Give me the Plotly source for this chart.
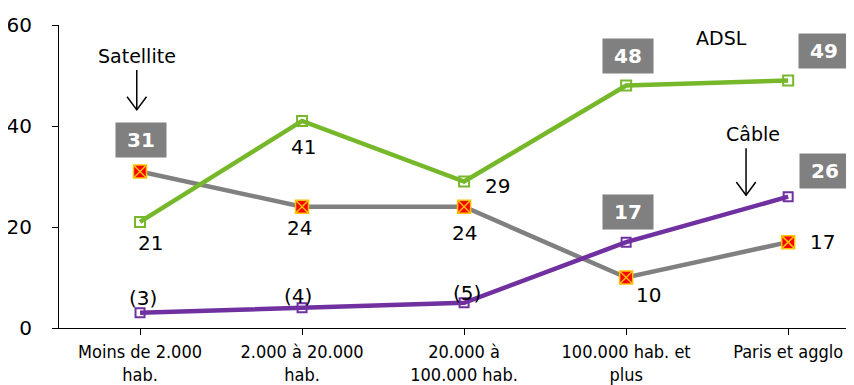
import plotly.graph_objects as go

categories = ["Moins de 2.000<br>hab.", "2.000 à 20.000<br>hab.", "20.000 à<br>100.000 hab.",
              "100.000 hab. et<br>plus", "Paris et agglo"]
adsl = [21, 41, 29, 48, 49]
satellite = [31, 24, 24, 10, 17]
cable = [3, 4, 5, 17, 26]
y_ticks = [0, 20, 40, 60]

x = list(range(len(categories)))
GREEN = "#76b82a"
GREY = "#808080"
PURPLE = "#7030a0"
FONT = "DejaVu Sans, Verdana, sans-serif"

fig = go.Figure()
fig.add_trace(go.Scatter(x=x, y=satellite, mode="lines+markers",
                         line=dict(color=GREY, width=4.5),
                         marker=dict(symbol="square-x", size=13, color="#ff0000",
                                     line=dict(color="#ffc000", width=1.5))))
fig.add_trace(go.Scatter(x=x, y=adsl, mode="lines+markers",
                         line=dict(color=GREEN, width=4.5),
                         marker=dict(symbol="square-open", size=10, color=GREEN,
                                     line=dict(width=2))))
fig.add_trace(go.Scatter(x=x, y=cable, mode="lines+markers",
                         line=dict(color=PURPLE, width=4.5),
                         marker=dict(symbol="square-open", size=9, color=PURPLE,
                                     line=dict(width=2))))

ann = []
def plain(i, v, xs, ys):
    ann.append(dict(x=i, y=v, text=str(v), showarrow=False,
                    xshift=xs, yshift=ys, font=dict(family=FONT, size=20, color="#000")))

def boxed(i, v, xs, ys):
    ann.append(dict(x=i, y=v, text="<b>%d</b>" % v, showarrow=False, xshift=xs, yshift=ys,
                    bgcolor=GREY, borderpad=5, width=40,
                    font=dict(family=FONT, size=20, color="#ffffff")))

plain(0, adsl[0], 10, -21)
plain(1, adsl[1], 1, -26)
plain(2, adsl[2], 33, -4)
plain(1, satellite[1], -3, -21)
plain(2, satellite[2], 0, -26)
plain(3, satellite[3], 22, -17)
plain(4, satellite[4], 34, 0)
for i, xs, ys in [(0, 3, 15), (1, -4, 12), (2, 3, 10)]:
    ann.append(dict(x=i, y=cable[i], text="(%d)" % cable[i], showarrow=False,
                    xshift=xs, yshift=ys, font=dict(family=FONT, size=20, color="#000")))
boxed(0, satellite[0], 1, 31)
boxed(3, adsl[3], 2, 30)
boxed(4, adsl[4], 36, 30)
boxed(3, cable[3], 2, 30)
boxed(4, cable[4], 37, 26)

for txt, xx, yy in [("Satellite", -0.02, 53.9), ("ADSL", 3.59, 57.4), ("Câble", 3.78, 38.4)]:
    ann.append(dict(x=xx, y=yy, text=txt, showarrow=False,
                    font=dict(family=FONT, size=19, color="#000")))

shapes = []
for ax_, y0, y1 in [(-0.02, 51.1, 43.2), (3.74, 35.6, 26.3)]:
    shapes.append(dict(type="line", xref="x", yref="y", x0=ax_, x1=ax_, y0=y0, y1=y1,
                       line=dict(color="#000", width=1.5)))
    shapes.append(dict(type="path", xref="x", yref="y",
                       path="M %f %f L %f %f L %f %f" % (ax_ - 0.06, y1 + 2.6, ax_, y1, ax_ + 0.06, y1 + 2.6),
                       line=dict(color="#000", width=1.5)))

fig.update_layout(
    width=846, height=377,
    margin=dict(l=51, r=1, t=17, b=57),
    paper_bgcolor="white", plot_bgcolor="white",
    showlegend=False,
    annotations=ann, shapes=shapes,
    xaxis=dict(tickmode="array", tickvals=x, ticktext=categories, range=[-0.5, 4.4],
               automargin=False,
               showline=True, linecolor="#000", linewidth=1, ticks="outside", ticklen=6,
               tickson="boundaries", tickcolor="#000", showgrid=False, zeroline=False,
               ticklabelstandoff=1,
               tickfont=dict(family="DejaVu Sans Condensed, Liberation Sans Narrow, sans-serif",
                             size=18, color="#000")),
    yaxis=dict(range=[0, 60], tickvals=y_ticks, showline=True, linecolor="#000", linewidth=1,
               automargin=False, ticklabelstandoff=16,
               ticks="outside", ticklen=6, tickcolor="#000", showgrid=False, zeroline=False,
               tickfont=dict(family=FONT, size=20, color="#000")),
)
fig.write_html("out.html")
